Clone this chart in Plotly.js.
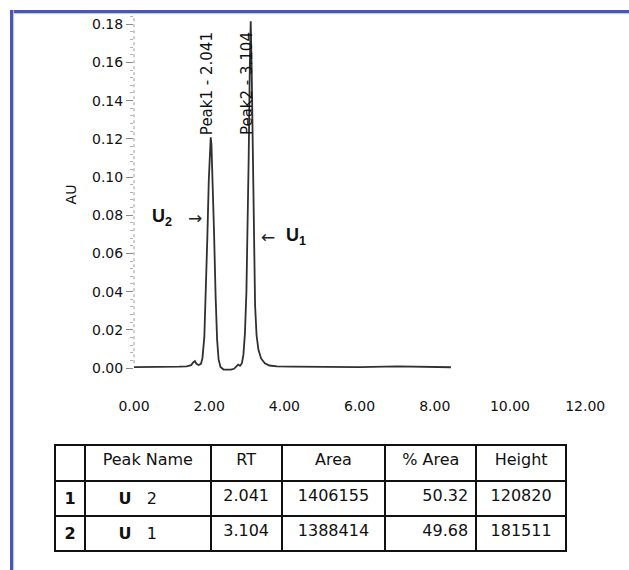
<!DOCTYPE html>
<html>
<head>
<meta charset="utf-8">
<script src="https://cdn.plot.ly/plotly-3.0.1.min.js"></script>
<style>
  html, body { margin: 0; padding: 0; background: #ffffff; }
  #wrap { position: relative; width: 629px; height: 570px; overflow: hidden; }
  #chart { position: absolute; left: 0; top: 0; width: 629px; height: 570px; }
  .frameTop { position: absolute; left: 10px; top: 10px; width: 619px; height: 3px; background: #4a56b4; box-shadow: 0 1px 1px #b9bfe6; pointer-events: none; }
  .frameLeft { position: absolute; left: 10px; top: 10px; width: 3px; height: 560px; background: #4a56b4; box-shadow: 1px 0 1px #b9bfe6; pointer-events: none; }
</style>
</head>
<body>
<div id="wrap">
  <div id="chart"></div>
  <div class="frameTop"></div>
  <div class="frameLeft"></div>
</div>
<script>
// ---- chromatogram trace (retention time in min, absorbance in AU) ----
const rtMin = [0.00, 0.30, 0.60, 0.90, 1.20, 1.40, 1.52, 1.58, 1.62, 1.66, 1.72, 1.78, 1.82, 1.87, 1.91, 1.95, 1.99, 2.02, 2.041, 2.06, 2.09, 2.13, 2.17, 2.21, 2.25, 2.30, 2.38, 2.48, 2.58, 2.66, 2.72, 2.77, 2.82, 2.87, 2.91, 2.95, 2.99, 3.02, 3.05, 3.08, 3.104, 3.13, 3.16, 3.19, 3.22, 3.26, 3.31, 3.38, 3.48, 3.60, 3.80, 4.20, 5.00, 6.00, 7.00, 7.60, 8.00, 8.43];
const absAU = [0.0005, 0.0005, 0.0005, 0.0006, 0.0007, 0.0009, 0.0015, 0.0030, 0.0036, 0.0022, 0.0016, 0.0022, 0.0050, 0.0160, 0.0380, 0.0680, 0.0990, 0.1160, 0.1208, 0.1170, 0.1010, 0.0700, 0.0380, 0.0150, 0.0045, 0.0005, -0.0008, -0.0010, -0.0009, -0.0004, 0.0008, 0.0018, 0.0012, 0.0025, 0.0070, 0.0180, 0.0400, 0.0700, 0.1100, 0.1580, 0.1815, 0.1560, 0.1050, 0.0620, 0.0330, 0.0170, 0.0095, 0.0050, 0.0025, 0.0013, 0.0009, 0.0007, 0.0006, 0.0005, 0.0008, 0.0007, 0.0005, 0.0004];

// ---- peak labels ----
const peakRT = [2.041, 3.104];
const peakLabelText = ["Peak1 - 2.041", "Peak2 - 3.104"];
const peakLabelBaseAU = [0.121, 0.121];

// ---- component markers (U2, U1) ----
const compText = ["<b>U<sub>2</sub></b>", "<b>U<sub>1</sub></b>"];
const compX = [0.74, 4.31];
const compY = [0.0790, 0.0686];
const arrowText = ["→", "←"];
const arrowX = [1.62, 3.56];
const arrowY = [0.0785, 0.0686];

// ---- axis ticks ----
const xTickVals = [0, 2, 4, 6, 8, 10, 12];
const xTickText = ["0.00", "2.00", "4.00", "6.00", "8.00", "10.00", "12.00"];
const yTickVals = [0, 0.02, 0.04, 0.06, 0.08, 0.10, 0.12, 0.14, 0.16, 0.18];
const yTickText = ["0.00", "0.02", "0.04", "0.06", "0.08", "0.10", "0.12", "0.14", "0.16", "0.18"];

// ---- peak table ----
const tableHeader = ["", "Peak Name", "RT", "Area", "% Area", "Height"];
const rowNum = ["<b>1</b>", "<b>2</b>"];
const peakName = ["     <b>U</b>   2", "     <b>U</b>   1"];
const rtVals = ["2.041", "3.104"];
const areaVals = ["1406155", "1388414"];
const pctArea = ["50.32", "49.68"];
const heightVals = ["120820", "181511"];

const W = 629, H = 570;
const M = {l: 40, r: 20, t: 10, b: 10};
const pw = W - M.l - M.r, ph = H - M.t - M.b;
const px2dx = p => (p - M.l) / pw;
const py2dy = p => 1 - (p - M.t) / ph;

const FONT = 'DejaVu Sans, Arial, sans-serif';
const INK = '#111111';

const lineTrace = {
  type: 'scatter', mode: 'lines',
  x: rtMin, y: absAU,
  line: {color: '#303030', width: 1.8},
  hoverinfo: 'skip', showlegend: false,
  xaxis: 'x', yaxis: 'y'
};

const tableTrace = {
  type: 'table',
  domain: {x: [px2dx(55), px2dx(567)], y: [py2dy(552), py2dy(445)]},
  columnwidth: [30, 126, 71, 104, 91, 90],
  header: {
    values: tableHeader,
    align: ['center', 'center', 'center', 'center', 'center', 'center'],
    height: 36,
    line: {color: INK, width: 2},
    fill: {color: '#ffffff'},
    font: {family: FONT, size: 16, color: INK}
  },
  cells: {
    values: [rowNum, peakName, rtVals, areaVals, pctArea, heightVals],
    align: ['center', 'left', 'center', 'center', 'right', 'center'],
    height: 35,
    line: {color: INK, width: 2},
    fill: {color: '#ffffff'},
    font: {family: FONT, size: 16, color: INK}
  }
};

const annotations = [];
for (let i = 0; i < peakRT.length; i++) {
  annotations.push({
    x: peakRT[i], y: peakLabelBaseAU[i], xref: 'x', yref: 'y',
    text: peakLabelText[i], showarrow: false, textangle: -90,
    xanchor: 'center', yanchor: 'bottom', xshift: -3,
    font: {family: FONT, size: 15, color: INK}
  });
}
for (let i = 0; i < compText.length; i++) {
  annotations.push({
    x: compX[i], y: compY[i], xref: 'x', yref: 'y',
    text: compText[i], showarrow: false,
    font: {family: 'Arial, Liberation Sans, sans-serif', size: 18, color: INK}
  });
  annotations.push({
    x: arrowX[i], y: arrowY[i], xref: 'x', yref: 'y',
    text: arrowText[i], showarrow: false,
    font: {family: 'DejaVu Sans, sans-serif', size: 17, color: '#222222'}
  });
}

const layout = {
  width: W, height: H,
  margin: M,
  paper_bgcolor: '#ffffff', plot_bgcolor: '#ffffff',
  showlegend: false,
  xaxis: {
    domain: [px2dx(134), px2dx(600)],
    range: [0, 12.394],
    showgrid: false, zeroline: false, showline: false,
    ticks: '', tickvals: xTickVals, ticktext: xTickText,
    ticklabelstandoff: 22,
    tickfont: {family: FONT, size: 14, color: INK},
    fixedrange: true
  },
  yaxis: {
    domain: [py2dy(374), py2dy(15)],
    range: [-0.00314, 0.18482],
    showgrid: false, zeroline: false, showline: false,
    ticks: 'outside', ticklen: 7, tickwidth: 1, tickcolor: '#8a8a8a',
    tickvals: yTickVals, ticktext: yTickText,
    minor: {ticks: 'outside', ticklen: 3, tickcolor: '#b0b0b0', dtick: 0.004, tick0: 0},
    tickfont: {family: FONT, size: 14, color: INK},
    title: {text: 'AU', font: {family: FONT, size: 14, color: INK}, standoff: 12},
    fixedrange: true
  },
  shapes: [{
    type: 'line', xref: 'x domain', yref: 'y domain',
    x0: 0, x1: 0, y0: 0.03, y1: 1,
    line: {color: '#9a9a9a', width: 1, dash: 'dot'}
  }],
  annotations: annotations
};

Plotly.newPlot('chart', [lineTrace, tableTrace], layout, {displayModeBar: false, staticPlot: true});
</script>
</body>
</html>
